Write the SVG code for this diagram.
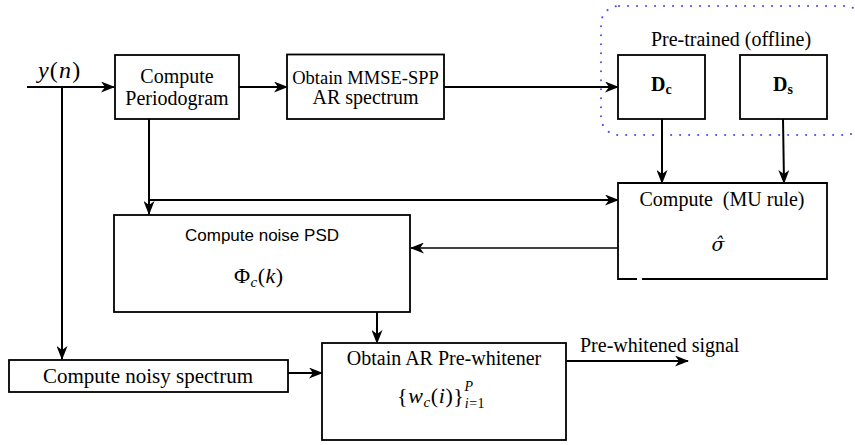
<svg xmlns="http://www.w3.org/2000/svg" width="855" height="445" viewBox="0 0 855 445">
<style>
.box{fill:#fff;stroke:#000;stroke-width:1.8}
.ln{fill:none;stroke:#000;stroke-width:2}
.thin{fill:none;stroke:#000;stroke-width:1.5}
.t{font-family:"Liberation Serif","Times New Roman",serif;font-size:20px;fill:#000;text-anchor:middle}
.st{text-anchor:start}
.s{font-family:"Liberation Sans",Arial,sans-serif;font-size:17px;fill:#000;text-anchor:middle}
.m{font-family:"Liberation Serif","Times New Roman",serif;fill:#000}
.i{font-style:italic}
.b{font-weight:bold}
</style>
<defs>
<marker id="ah" viewBox="0 0 14 11" refX="13" refY="5.5" markerWidth="14" markerHeight="11" markerUnits="userSpaceOnUse" orient="auto">
<path d="M0,0 L14,5.5 L0,11 L4,5.5 z" fill="#000"/>
</marker>
</defs>
<rect width="855" height="445" fill="#fff"/>

<g id="pretrained-group">
<rect x="601" y="6" width="262" height="129" rx="18" fill="none" stroke="#4a4aee" stroke-width="2" stroke-dasharray="0.1 8.9" stroke-linecap="round"/>
<text class="t" x="731" y="46">Pre-trained (offline)</text>
</g>

<g id="connectors">
<line class="ln" x1="27" y1="87" x2="114" y2="87" marker-end="url(#ah)"/>
<line class="ln" x1="62" y1="87" x2="62" y2="359" marker-end="url(#ah)"/>
<line class="ln" x1="239" y1="87" x2="287" y2="87" marker-end="url(#ah)"/>
<line class="ln" x1="444" y1="87" x2="618" y2="87" marker-end="url(#ah)"/>
<line class="ln" x1="149" y1="119" x2="149" y2="214" marker-end="url(#ah)"/>
<line class="ln" x1="149" y1="200" x2="618" y2="200" marker-end="url(#ah)"/>
<line class="ln" x1="662" y1="119" x2="662" y2="183" marker-end="url(#ah)"/>
<line class="ln" x1="783" y1="119" x2="784" y2="183" marker-end="url(#ah)"/>
<line class="thin" x1="618" y1="248" x2="411" y2="248" marker-end="url(#ah)"/>
<line class="ln" x1="377" y1="312" x2="377" y2="343" marker-end="url(#ah)"/>
<line class="ln" x1="288" y1="373" x2="322" y2="373" marker-end="url(#ah)"/>
<line class="ln" x1="566" y1="361" x2="688" y2="361" marker-end="url(#ah)"/>
</g>

<g id="input-label">
<text class="m" x="38" y="78" font-size="24" letter-spacing="1.2"><tspan class="i">y</tspan>(<tspan class="i">n</tspan>)</text>
</g>

<g id="periodogram">
<rect class="box" x="115" y="55" width="124" height="64"/>
<text class="t" x="177" y="83">Compute</text>
<text class="t" x="177" y="105">Periodogram</text>
</g>

<g id="mmse">
<rect class="box" x="287" y="54.5" width="157" height="64.5"/>
<text class="t" x="365.5" y="84" style="font-size:18.5px">Obtain MMSE-SPP</text>
<text class="t" x="365.5" y="104">AR spectrum</text>
</g>

<g id="dc">
<rect class="box" x="618" y="55" width="87" height="64"/>
<text class="m b" x="651" y="91" font-size="20">D<tspan font-size="14" dy="3">c</tspan></text>
</g>

<g id="ds">
<rect class="box" x="740" y="55" width="87" height="64"/>
<text class="m b" x="773" y="91" font-size="20">D<tspan font-size="14" dy="3">s</tspan></text>
</g>

<g id="mu">
<rect x="618" y="183" width="209" height="96" fill="#fff"/>
<path class="box" d="M637,279 H618 V183 H827 V279 H642"/>
<text class="t" x="722" y="206" xml:space="preserve">Compute  (MU rule)</text>
<text x="718" y="251" font-family="DejaVu Serif, serif" font-style="italic" font-size="19" text-anchor="middle" fill="#000">σ̂</text>
</g>

<g id="noise-psd">
<rect class="box" x="114" y="215" width="296" height="97"/>
<text class="s" x="262" y="241">Compute noise PSD</text>
<text class="m" x="234" y="283" font-size="22" letter-spacing="0.5">Φ<tspan class="i" font-size="15" dy="4">c</tspan><tspan dy="-4">(</tspan><tspan class="i">k</tspan>)</text>
</g>

<g id="noisy-spectrum">
<rect class="box" x="9" y="360" width="279" height="32"/>
<text class="t" x="148" y="383" style="font-size:21px">Compute noisy spectrum</text>
</g>

<g id="prewhitener">
<rect class="box" x="322" y="343" width="244" height="97"/>
<text class="t" x="444" y="365">Obtain AR Pre-whitener</text>
<text class="m" x="397" y="403" font-size="22" letter-spacing="0.6">{<tspan class="i">w</tspan><tspan class="i" font-size="15" dy="4">c</tspan><tspan dy="-4">(</tspan><tspan class="i">i</tspan>)}<tspan class="i" font-size="14" dy="-12">P</tspan><tspan class="i" font-size="14" dx="-9" dy="17">i</tspan><tspan font-size="14">=1</tspan></text>
</g>

<g id="output-label">
<text class="t st" x="580" y="352">Pre-whitened signal</text>
</g>
</svg>
